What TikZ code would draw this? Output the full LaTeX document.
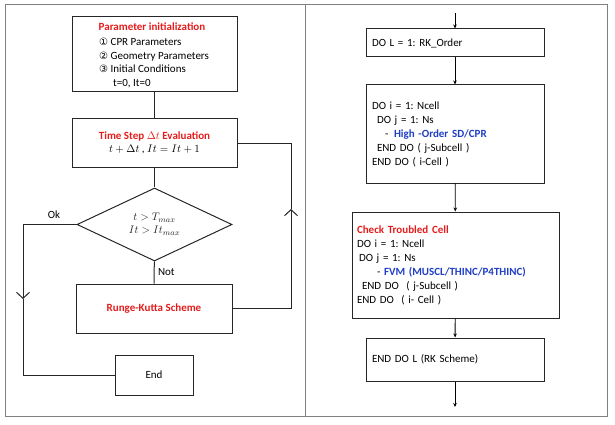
\documentclass[tikz,border=0pt]{standalone}
\usepackage{fontspec}
\setmainfont{Carlito}
\newfontfamily\circfont{DejaVu Sans}
\usetikzlibrary{shapes.geometric,arrows.meta}
\definecolor{titlered}{RGB}{228,28,28}
\definecolor{codeblue}{RGB}{32,62,196}
\definecolor{framegray}{RGB}{128,128,128}
\definecolor{linegray}{RGB}{38,38,38}
\frenchspacing

\begin{document}
\begin{tikzpicture}[x=1pt,y=-1pt,
	font=\fontsize{11}{13.5}\selectfont,
	box/.style={draw=linegray,line width=1pt,inner sep=0pt},
	link/.style={draw=linegray,line width=1pt},
	flow/.style={draw=black,line width=0.9pt,-{Stealth[length=4pt,width=3.5pt]}},
	loopmark/.style={link,-{Straight Barb[length=6pt,width=13pt]}},
	title/.style={text=titlered,font=\fontsize{11}{13.5}\selectfont\bfseries},
	code/.style={draw=linegray,line width=1pt,align=left,inner ysep=0pt,font=\fontsize{11}{14}\selectfont}]
	\useasboundingbox (0,0) rectangle (615,425);
	\draw [framegray,line width=1pt] (5,4.5) rectangle (607,416);
	\draw [framegray,line width=1pt] (305,4.5) -- (305,416);
	% left panel: time loop
	\node [box,minimum width=165pt,minimum height=75pt] (init) at (154.5,54.5) {};
	\node [title] (inittitle) at (152,27) {Parameter initialization};
	\node [anchor=west,align=left,inner sep=0pt] (initlist) at (99,63) {{\circfont\fontsize{10}{13.5}\selectfont ①} CPR Parameters\\ {\circfont\fontsize{10}{13.5}\selectfont ②} Geometry Parameters\\ {\circfont\fontsize{10}{13.5}\selectfont ③} Initial Conditions\\ \hspace*{14pt}t=0, It=0};
	\node [box,minimum width=165pt,minimum height=48pt,align=center] (tstep) at (154.5,143) {\textcolor{titlered}{\bfseries Time Step $\Delta t$ Evaluation}\\ $t + \Delta t$ , $It = It + 1$};
	\node [box,diamond,shape aspect=2.1,minimum width=155pt,minimum height=73pt,align=center,text=linegray,font=\fontsize{11}{13}\selectfont] (test) at (154.5,224.5) {$t > T_{max}$\\ $It > It_{max}$};
	\node [box,title,minimum width=156pt,minimum height=49pt] (rk) at (154,308.5) {Runge-Kutta Scheme};
	\node [box,minimum width=78pt,minimum height=40pt] (stop) at (154,375) {End};
	\coordinate (okturn) at (23,224.5);
	\coordinate (okmark) at (23,299);
	\coordinate (backmark) at (291,209);
	\draw [link] (init) -- (tstep);
	\draw [link] (tstep) -- (test);
	\draw [link] (test) -- node [right,pos=0.5] (notlabel) {Not} (rk);
	\draw [loopmark] (test.west) -- (okturn) -- (okmark);
	\draw [link] (okmark) |- (stop.west);
	\node (oklabel) at (54,215) {Ok};
	\draw [loopmark] (rk.east) -| (backmark);
	\draw [link] (backmark) |- (tstep.east);
	% right panel: RK stages
	\coordinate (entry) at (455,13);
	\coordinate (exit) at (455,407);
	\node [code,minimum width=178pt,minimum height=28pt,text width=166pt,inner xsep=6pt] (order) at (455,43) {DO L = 1: RK\_Order};
	\node [code,minimum width=178pt,minimum height=98pt,text width=166pt,inner xsep=6pt] (cpr) at (455,134) {DO i = 1: Ncell\\ \hspace*{5pt}DO j = 1: Ns\\ \hspace*{13pt}- \hspace{2pt}\textcolor{codeblue}{\bfseries High -Order SD/CPR}\\ \hspace*{5pt}END DO ( j-Subcell )\\ END DO ( i-Cell )};
	\node [code,minimum width=207pt,minimum height=106pt,text width=197pt,inner xsep=5pt] (trouble) at (455.5,265) {\textcolor{titlered}{\bfseries Check Troubled Cell}\\ DO i = 1: Ncell\\ \hspace*{2pt}DO j = 1: Ns\\ \hspace*{20pt}- \textcolor{codeblue}{\bfseries FVM (MUSCL/THINC/P4THINC)}\\ \hspace*{5pt}END DO \ ( j-Subcell )\\ END DO \ ( i- Cell )};
	\node [code,minimum width=178pt,minimum height=43pt,text width=166pt,inner xsep=6pt] (rkend) at (455,359.5) {END DO L (RK Scheme)};
	\draw [flow] (entry) -- (order);
	\draw [flow] (order) -- (cpr);
	\draw [flow] (cpr) -- (trouble);
	\draw [flow] (trouble) -- (rkend);
	\draw [flow] (rkend) -- (exit);
\end{tikzpicture}
\end{document}
